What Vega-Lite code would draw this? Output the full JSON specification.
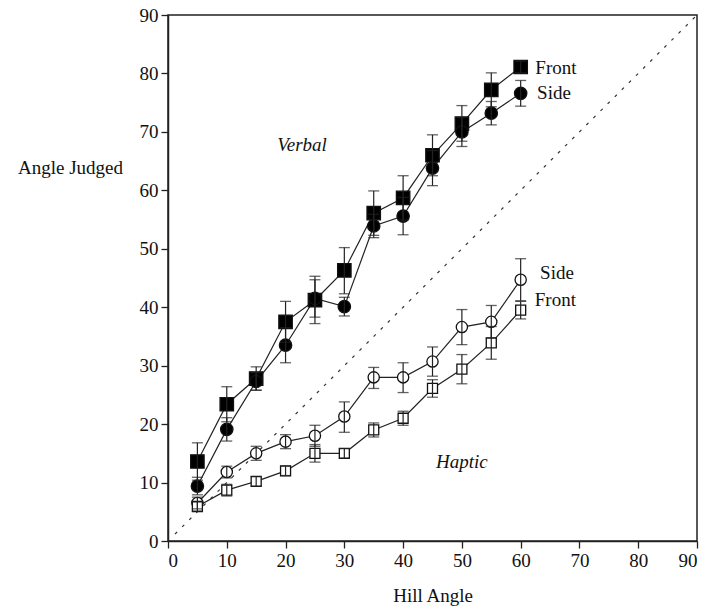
{
  "$schema": "https://vega.github.io/schema/vega-lite/v6.json",
  "width": 529,
  "height": 526,
  "autosize": {"type": "none"},
  "padding": {"left": 168, "top": 15, "right": 13, "bottom": 68},
  "background": "white",
  "config": {
    "view": {"stroke": "#222", "strokeWidth": 1.5},
    "font": "Liberation Serif",
    "axis": {
      "grid": false,
      "domainColor": "#222",
      "domainWidth": 1.5,
      "tickColor": "#222",
      "tickSize": 7,
      "tickWidth": 1.3,
      "labelColor": "#111",
      "labelFont": "Liberation Serif",
      "labelFontSize": 19,
      "titleFont": "Liberation Serif",
      "titleFontSize": 19,
      "titleFontWeight": "normal",
      "titleColor": "#111"
    }
  },
  "datasets": {
    "main": [
      {"x": 5, "y": 13.6, "lo": 10.4, "hi": 16.8, "series": "Verbal Front"},
      {"x": 10, "y": 23.4, "lo": 20.4, "hi": 26.4, "series": "Verbal Front"},
      {"x": 15, "y": 27.8, "lo": 25.8, "hi": 29.8, "series": "Verbal Front"},
      {"x": 20, "y": 37.5, "lo": 34.0, "hi": 41.0, "series": "Verbal Front"},
      {"x": 25, "y": 41.2, "lo": 37.2, "hi": 45.3, "series": "Verbal Front"},
      {"x": 30, "y": 46.3, "lo": 42.3, "hi": 50.2, "series": "Verbal Front"},
      {"x": 35, "y": 56.1, "lo": 52.3, "hi": 59.9, "series": "Verbal Front"},
      {"x": 40, "y": 58.7, "lo": 54.9, "hi": 62.5, "series": "Verbal Front"},
      {"x": 45, "y": 66.0, "lo": 62.5, "hi": 69.5, "series": "Verbal Front"},
      {"x": 50, "y": 71.4, "lo": 68.4, "hi": 74.5, "series": "Verbal Front"},
      {"x": 55, "y": 77.2, "lo": 74.3, "hi": 80.1, "series": "Verbal Front"},
      {"x": 60, "y": 81.1, "lo": 80.1, "hi": 82.1, "series": "Verbal Front"},
      {"x": 5, "y": 9.4, "lo": 7.9, "hi": 10.9, "series": "Verbal Side"},
      {"x": 10, "y": 19.1, "lo": 17.1, "hi": 21.1, "series": "Verbal Side"},
      {"x": 15, "y": 27.3, "lo": 25.8, "hi": 28.8, "series": "Verbal Side"},
      {"x": 20, "y": 33.5, "lo": 30.5, "hi": 36.5, "series": "Verbal Side"},
      {"x": 25, "y": 41.5, "lo": 38.3, "hi": 44.7, "series": "Verbal Side"},
      {"x": 30, "y": 40.1, "lo": 38.5, "hi": 41.7, "series": "Verbal Side"},
      {"x": 35, "y": 53.9, "lo": 51.9, "hi": 55.9, "series": "Verbal Side"},
      {"x": 40, "y": 55.6, "lo": 52.4, "hi": 58.8, "series": "Verbal Side"},
      {"x": 45, "y": 63.8, "lo": 60.8, "hi": 66.8, "series": "Verbal Side"},
      {"x": 50, "y": 70.0, "lo": 67.5, "hi": 72.5, "series": "Verbal Side"},
      {"x": 55, "y": 73.2, "lo": 71.2, "hi": 75.2, "series": "Verbal Side"},
      {"x": 60, "y": 76.6, "lo": 74.4, "hi": 78.8, "series": "Verbal Side"},
      {"x": 5, "y": 6.5, "lo": 5.5, "hi": 7.5, "series": "Haptic Side"},
      {"x": 10, "y": 11.8, "lo": 10.8, "hi": 12.8, "series": "Haptic Side"},
      {"x": 15, "y": 15.0, "lo": 13.8, "hi": 16.2, "series": "Haptic Side"},
      {"x": 20, "y": 17.0, "lo": 15.8, "hi": 18.2, "series": "Haptic Side"},
      {"x": 25, "y": 18.0, "lo": 16.2, "hi": 19.8, "series": "Haptic Side"},
      {"x": 30, "y": 21.3, "lo": 18.6, "hi": 23.8, "series": "Haptic Side"},
      {"x": 35, "y": 28.0, "lo": 26.1, "hi": 29.7, "series": "Haptic Side"},
      {"x": 40, "y": 28.0, "lo": 25.4, "hi": 30.5, "series": "Haptic Side"},
      {"x": 45, "y": 30.7, "lo": 28.2, "hi": 33.2, "series": "Haptic Side"},
      {"x": 50, "y": 36.6, "lo": 33.6, "hi": 39.6, "series": "Haptic Side"},
      {"x": 55, "y": 37.5, "lo": 34.7, "hi": 40.3, "series": "Haptic Side"},
      {"x": 60, "y": 44.7, "lo": 41.1, "hi": 48.3, "series": "Haptic Side"},
      {"x": 5, "y": 5.9, "lo": 5.1, "hi": 6.7, "series": "Haptic Front"},
      {"x": 10, "y": 8.7, "lo": 7.7, "hi": 9.7, "series": "Haptic Front"},
      {"x": 15, "y": 10.2, "lo": 9.4, "hi": 11.0, "series": "Haptic Front"},
      {"x": 20, "y": 12.0, "lo": 11.2, "hi": 12.8, "series": "Haptic Front"},
      {"x": 25, "y": 15.0, "lo": 13.5, "hi": 16.5, "series": "Haptic Front"},
      {"x": 30, "y": 15.0, "lo": 14.2, "hi": 15.8, "series": "Haptic Front"},
      {"x": 35, "y": 19.0, "lo": 17.8, "hi": 20.2, "series": "Haptic Front"},
      {"x": 40, "y": 21.0, "lo": 19.8, "hi": 22.2, "series": "Haptic Front"},
      {"x": 45, "y": 26.1, "lo": 24.6, "hi": 27.6, "series": "Haptic Front"},
      {"x": 50, "y": 29.4, "lo": 26.9, "hi": 31.9, "series": "Haptic Front"},
      {"x": 55, "y": 33.9, "lo": 31.1, "hi": 36.7, "series": "Haptic Front"},
      {"x": 60, "y": 39.5, "lo": 38.0, "hi": 41.0, "series": "Haptic Front"}
    ],
    "labels": [
      {"x": 62.5, "y": 80.9, "text": "Front", "style": "normal"},
      {"x": 62.8, "y": 76.7, "text": "Side", "style": "normal"},
      {"x": 63.3, "y": 45.8, "text": "Side", "style": "normal"},
      {"x": 62.4, "y": 41.2, "text": "Front", "style": "normal"},
      {"x": 22.8, "y": 67.8, "text": "Verbal", "style": "italic"},
      {"x": 50.0, "y": 13.5, "text": "Haptic", "style": "italic"}
    ],
    "diag": [{"x": 1.2, "y": 1.2, "x2": 90, "y2": 90}]
  },
  "layer": [
    {
      "data": {"name": "diag"},
      "mark": {"type": "rule", "color": "#333", "strokeWidth": 1.2, "strokeDash": [3, 7]},
      "encoding": {
        "x": {"field": "x", "type": "quantitative", "scale": {"domain": [0, 90], "nice": false},
          "axis": {"title": "Hill Angle", "values": [0,10,20,30,40,50,60,70,80,90], "labelPadding": 3, "titlePadding": 16}},
        "y": {"field": "y", "type": "quantitative", "scale": {"domain": [0, 90], "nice": false},
          "axis": {"title": "Angle Judged", "values": [0,10,20,30,40,50,60,70,80,90], "labelPadding": 3,
            "titleAngle": 0, "titleX": -98, "titleY": 152, "titleAlign": "center", "titleBaseline": "middle"}},
        "x2": {"field": "x2"},
        "y2": {"field": "y2"}
      }
    },
    {
      "data": {"name": "main"},
      "mark": {"type": "line", "color": "#222", "strokeWidth": 1.2},
      "encoding": {
        "x": {"field": "x", "type": "quantitative"},
        "y": {"field": "y", "type": "quantitative"},
        "detail": {"field": "series"}
      }
    },
    {
      "data": {"name": "main"},
      "mark": {"type": "point", "filled": false, "strokeWidth": 1.3, "opacity": 1, "stroke": "#111"},
      "encoding": {
        "x": {"field": "x", "type": "quantitative"},
        "y": {"field": "y", "type": "quantitative"},
        "shape": {"field": "series", "type": "nominal", "legend": null,
          "scale": {"domain": ["Verbal Front", "Verbal Side", "Haptic Side", "Haptic Front"], "range": ["square", "circle", "circle", "square"]}},
        "fill": {"field": "series", "type": "nominal", "legend": null,
          "scale": {"domain": ["Verbal Front", "Verbal Side", "Haptic Side", "Haptic Front"], "range": ["#000", "#000", "#fff", "#fff"]}},
        "size": {"field": "series", "type": "nominal", "legend": null,
          "scale": {"domain": ["Verbal Front", "Verbal Side", "Haptic Side", "Haptic Front"], "range": [180, 100, 85, 110]}}
      }
    },
    {
      "data": {"name": "main"},
      "mark": {"type": "rule", "color": "#222", "strokeWidth": 1.2},
      "encoding": {
        "x": {"field": "x", "type": "quantitative"},
        "y": {"field": "lo", "type": "quantitative"},
        "y2": {"field": "hi"}
      }
    },
    {
      "data": {"name": "main"},
      "mark": {"type": "tick", "orient": "horizontal", "color": "#222", "size": 11, "thickness": 1.3},
      "encoding": {
        "x": {"field": "x", "type": "quantitative"},
        "y": {"field": "lo", "type": "quantitative"}
      }
    },
    {
      "data": {"name": "main"},
      "mark": {"type": "tick", "orient": "horizontal", "color": "#222", "size": 11, "thickness": 1.3},
      "encoding": {
        "x": {"field": "x", "type": "quantitative"},
        "y": {"field": "hi", "type": "quantitative"}
      }
    },
    {
      "data": {"name": "labels"},
      "transform": [{"filter": "datum.style == 'normal'"}],
      "mark": {"type": "text", "font": "Liberation Serif", "fontSize": 19, "align": "left", "baseline": "middle", "color": "#111"},
      "encoding": {
        "x": {"field": "x", "type": "quantitative"},
        "y": {"field": "y", "type": "quantitative"},
        "text": {"field": "text"}
      }
    },
    {
      "data": {"name": "labels"},
      "transform": [{"filter": "datum.style == 'italic'"}],
      "mark": {"type": "text", "font": "Liberation Serif", "fontSize": 19, "fontStyle": "italic", "align": "center", "baseline": "middle", "color": "#111"},
      "encoding": {
        "x": {"field": "x", "type": "quantitative"},
        "y": {"field": "y", "type": "quantitative"},
        "text": {"field": "text"}
      }
    }
  ]
}
